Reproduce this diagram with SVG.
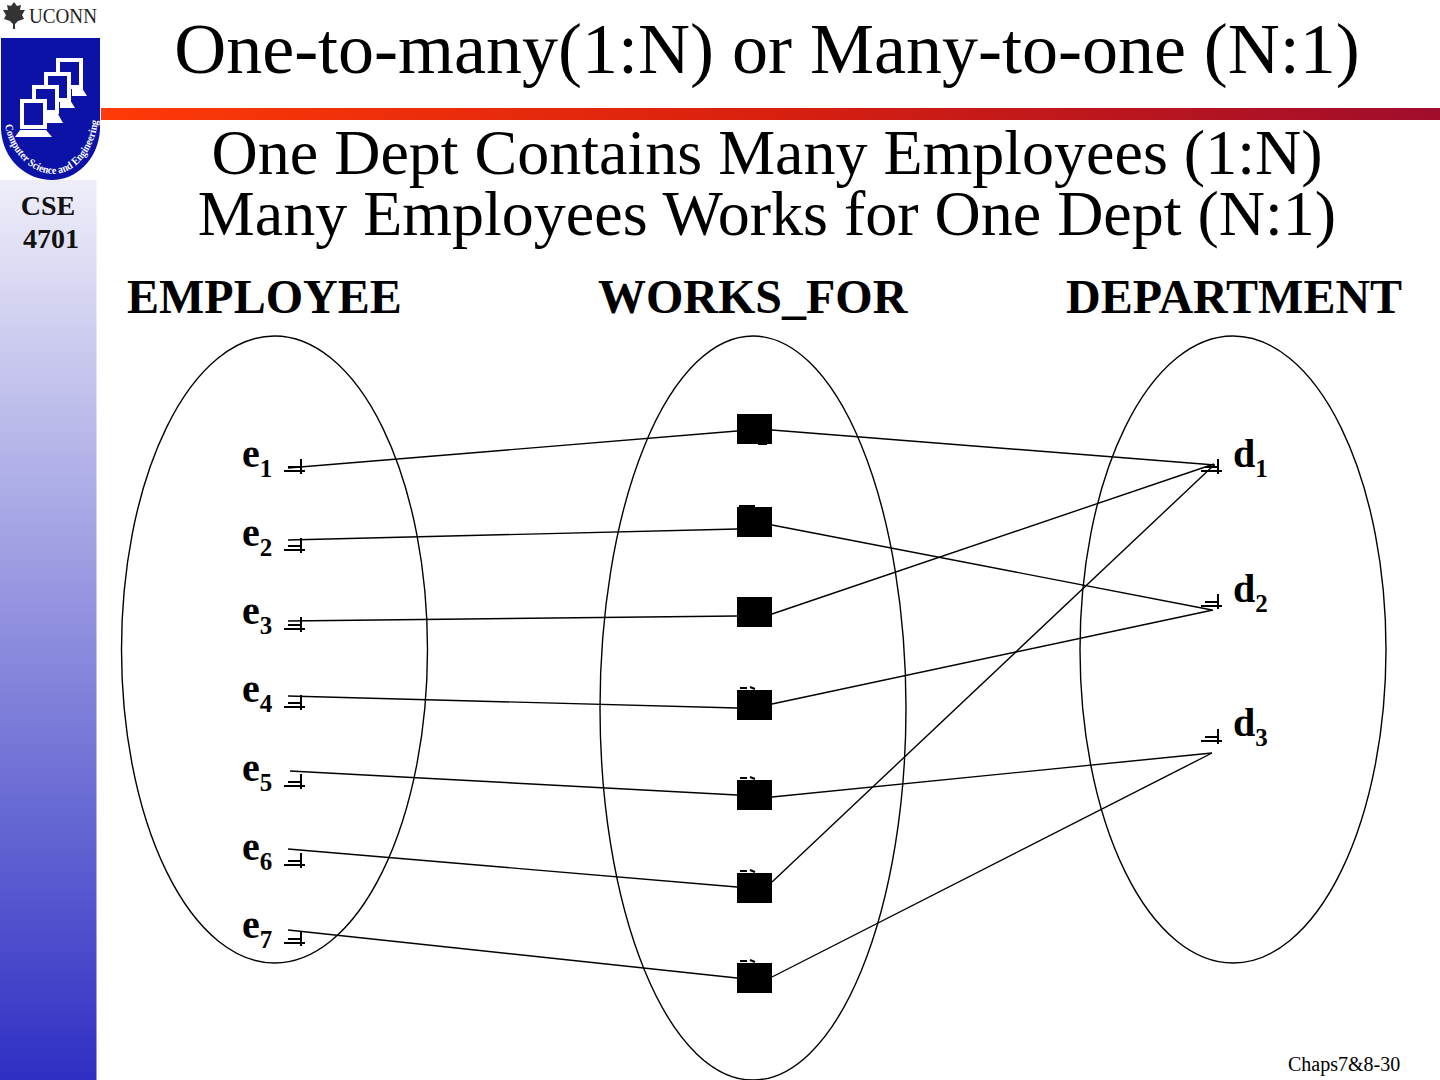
<svg xmlns="http://www.w3.org/2000/svg" xmlns:xlink="http://www.w3.org/1999/xlink" width="1440" height="1080" viewBox="0 0 1440 1080">
<style>
text{font-family:"Liberation Serif","Times New Roman",serif;fill:#000}
.title{font-size:72px;text-anchor:middle}
.sub{font-size:64px;text-anchor:middle}
.head{font-size:48px;font-weight:bold}
.lab{font-size:40px;font-weight:bold}
.idx{font-size:25px;font-weight:bold}
.side{font-size:28px;font-weight:bold;text-anchor:middle;fill:#111}
.ell{fill:none;stroke:#000;stroke-width:1.4}
.conn{fill:none;stroke:#000;stroke-width:1.4}
.tick{fill:none;stroke:#000;stroke-width:2}
.sq{fill:#000}
.mon{fill:#0c12a6;stroke:#fff;stroke-width:4}
</style>
<defs>
<linearGradient id="sideG" x1="0" y1="0" x2="0" y2="1"><stop offset="0" stop-color="#eeeef9"/><stop offset="1" stop-color="#2f2fc4"/></linearGradient>
<linearGradient id="barG" x1="0" y1="0" x2="1" y2="0"><stop offset="0" stop-color="#ff3a08"/><stop offset="0.5" stop-color="#d8200f"/><stop offset="1" stop-color="#a00d2c"/></linearGradient>
<path id="arc" d="M5 125 C9 152 32 174 53 174 C75 174 94 152 98 121"/>
<g id="tk"><path class="tick" d="M-17 4H4M0 -8V7M-13 0H0"/></g>
</defs>
<rect width="1440" height="1080" fill="#fff"/>
<g id="sidebar">
<rect x="0" y="180" width="96.500" height="900" fill="url(#sideG)"/>
<path d="M14 2L17 6L21 5L20 10L25 10L22 15L24 19L18 21L15 24V29H13V24L10 21L4 19L6 15L3 10L8 10L7 5L11 6Z" fill="#333"/>
<text x="29" y="23" textLength="68" lengthAdjust="spacingAndGlyphs" style="font-size:22px;fill:#222">UCONN</text>
<path d="M1 38H100V130C98 160 76 180 52 180C26 180 3 160 1 130Z" fill="#0c12a6"/>
<rect class="mon" x="58" y="60" width="23" height="27"/>
<rect class="mon" x="46" y="74" width="23" height="26"/>
<rect class="mon" x="34" y="87" width="23" height="25"/>
<rect class="mon" x="22" y="101" width="23" height="26"/>
<g fill="#fff"><path d="M20 130H46L52 137H15Z"/><path d="M47 114H58L63 123H47Z"/><path d="M60 100H70L75 108H60Z"/><path d="M72 88H82L87 96H72Z"/></g>
<text textLength="150" lengthAdjust="spacingAndGlyphs" style="font-size:11px;font-weight:bold;fill:#fff"><textPath xlink:href="#arc" href="#arc" textLength="150" lengthAdjust="spacingAndGlyphs">Computer Science and Engineering</textPath></text>
<text class="side" x="48" y="215">CSE</text>
<text class="side" x="51" y="248">4701</text>
</g>
<rect id="bar" x="101" y="108" width="1339" height="12" fill="url(#barG)"/>
<text class="title" x="767" y="73">One-to-many(1:N) or Many-to-one (N:1)</text>
<text class="sub" x="767" y="174">One Dept Contains Many Employees (1:N)</text>
<text class="sub" x="767" y="235">Many Employees Works for One Dept (N:1)</text>
<text class="head" x="127" y="313">EMPLOYEE</text>
<text class="head" x="598" y="313">WORKS_FOR</text>
<text class="head" x="1066" y="313">DEPARTMENT</text>
<g id="employee"><ellipse class="ell" cx="274.500" cy="649.500" rx="153" ry="313.500"/></g>
<g id="works_for"><ellipse class="ell" cx="753" cy="708" rx="153" ry="372"/></g>
<g id="department"><ellipse class="ell" cx="1233" cy="649.500" rx="153" ry="313.500"/></g>
<g id="e1"><text class="lab" x="242" y="467">e<tspan class="idx" dy="10">1</tspan></text><use href="#tk" x="301" y="467"/></g>
<g id="e2"><text class="lab" x="242" y="546">e<tspan class="idx" dy="10">2</tspan></text><use href="#tk" x="301" y="546"/></g>
<g id="e3"><text class="lab" x="242" y="624">e<tspan class="idx" dy="10">3</tspan></text><use href="#tk" x="301" y="625"/></g>
<g id="e4"><text class="lab" x="242" y="702">e<tspan class="idx" dy="10">4</tspan></text><use href="#tk" x="301" y="703"/></g>
<g id="e5"><text class="lab" x="242" y="781">e<tspan class="idx" dy="10">5</tspan></text><use href="#tk" x="301" y="782"/></g>
<g id="e6"><text class="lab" x="242" y="860">e<tspan class="idx" dy="10">6</tspan></text><use href="#tk" x="301" y="861"/></g>
<g id="e7"><text class="lab" x="242" y="938">e<tspan class="idx" dy="10">7</tspan></text><use href="#tk" x="301" y="939"/></g>
<g id="r1"><rect class="sq" x="737" y="414" width="35" height="30"/><path class="tick" d="M758 444H767"/></g>
<g id="r2"><rect class="sq" x="737" y="507" width="35" height="30"/><path class="tick" d="M739 506H755"/></g>
<g id="r3"><rect class="sq" x="737" y="597" width="35" height="30"/></g>
<g id="r4"><rect class="sq" x="737" y="690" width="35" height="30"/><path class="tick" d="M740 688H747M750 687L755 689"/></g>
<g id="r5"><rect class="sq" x="737" y="780" width="35" height="30"/><path class="tick" d="M740 778H747M750 777L755 779"/></g>
<g id="r6"><rect class="sq" x="737" y="873" width="35" height="30"/><path class="tick" d="M740 871H747M750 870L755 872"/></g>
<g id="r7"><rect class="sq" x="737" y="963" width="35" height="30"/><path class="tick" d="M740 961H747M750 960L755 962"/></g>
<g id="d1"><text class="lab" x="1233" y="467">d<tspan class="idx" dy="10">1</tspan></text><use href="#tk" x="1218" y="467"/></g>
<g id="d2"><text class="lab" x="1233" y="602">d<tspan class="idx" dy="10">2</tspan></text><use href="#tk" x="1218" y="602"/></g>
<g id="d3"><text class="lab" x="1233" y="736">d<tspan class="idx" dy="10">3</tspan></text><use href="#tk" x="1218" y="737"/></g>
<g id="connectors">
<path class="conn" d="M288 468L737 431"/><path class="conn" d="M772 430L1215 465"/>
<path class="conn" d="M288 540L737 529"/><path class="conn" d="M772 525L1212 610"/>
<path class="conn" d="M288 621L737 616"/><path class="conn" d="M772 614L1214 464"/>
<path class="conn" d="M288 696L737 708"/><path class="conn" d="M772 704L1213 610"/>
<path class="conn" d="M290 771L737 795"/><path class="conn" d="M772 797L1212 753"/>
<path class="conn" d="M288 849L737 887"/><path class="conn" d="M772 882L1214 465"/>
<path class="conn" d="M288 930L737 978"/><path class="conn" d="M772 977L1212 753"/>
</g>
<text x="1288" y="1071" style="font-size:20px">Chaps7&amp;8-30</text>
</svg>
